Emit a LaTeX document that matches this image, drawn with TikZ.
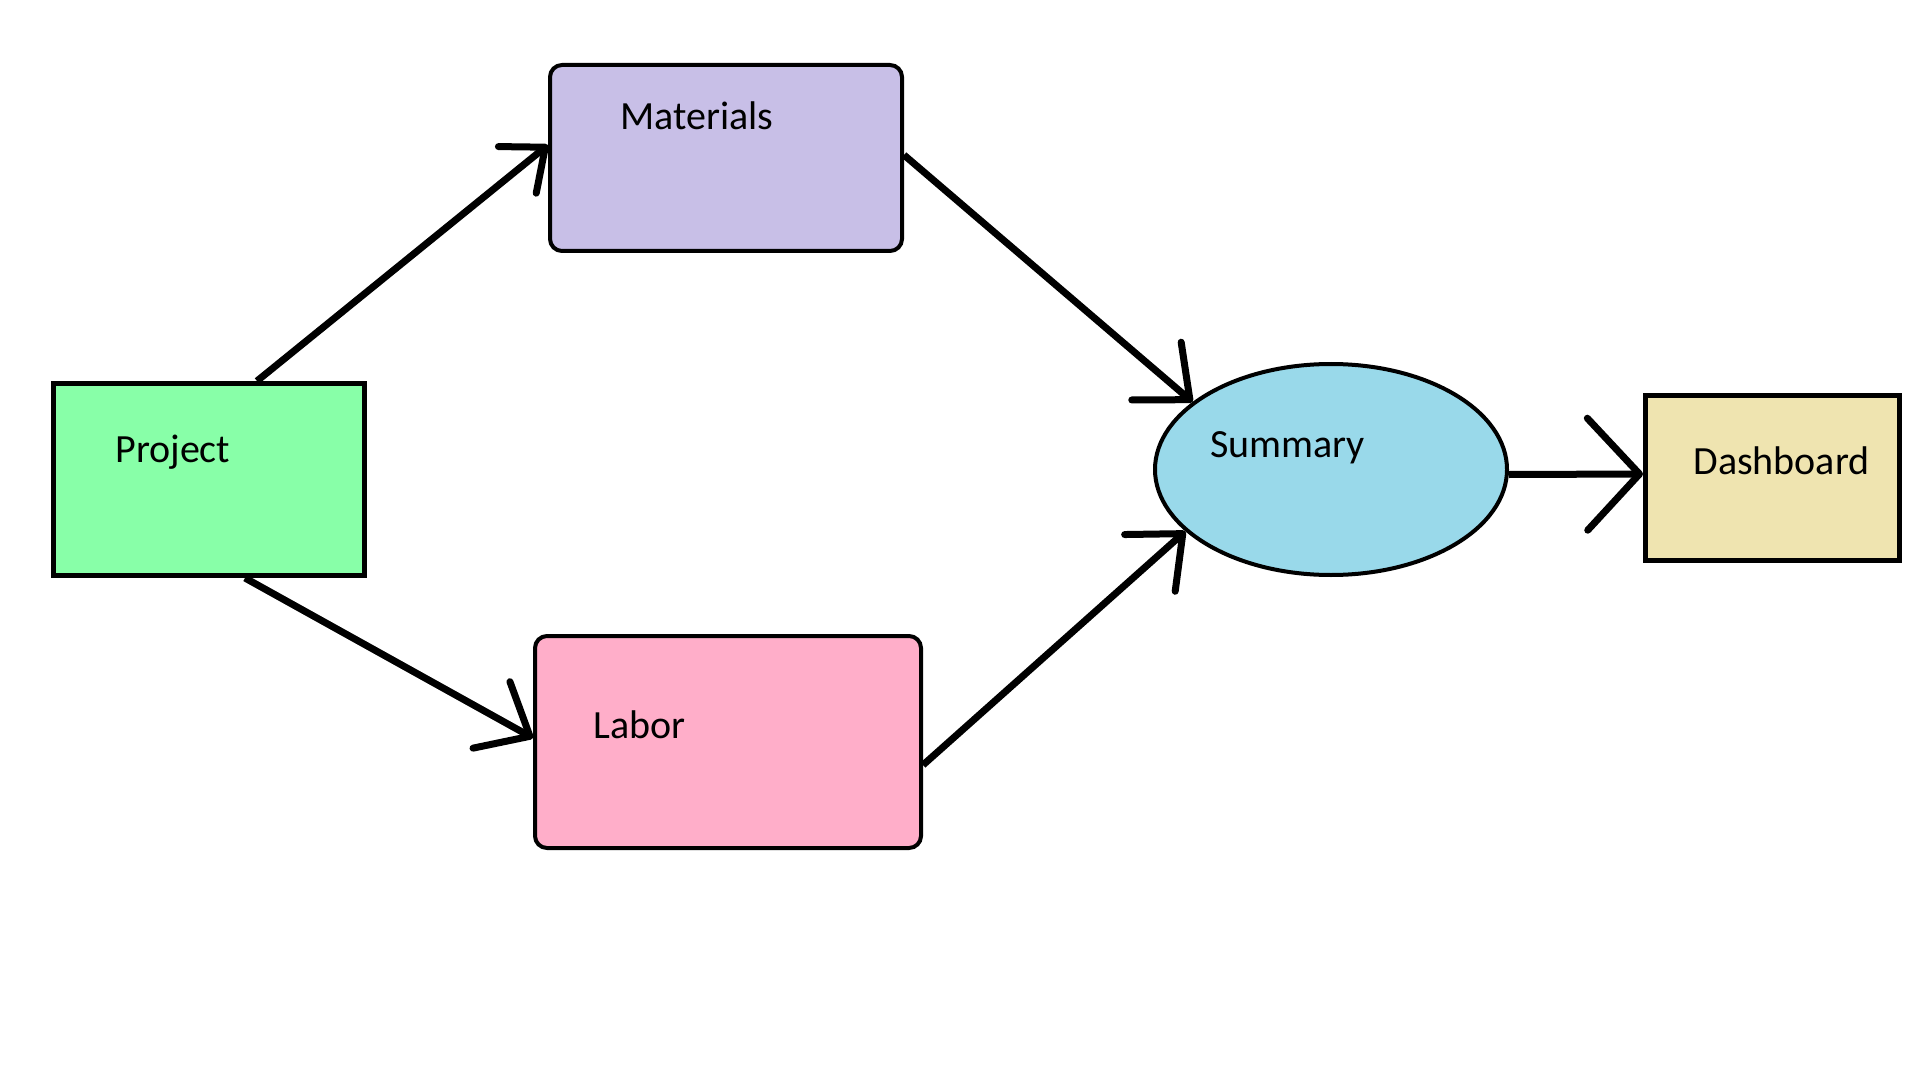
\documentclass[tikz,border=0pt]{standalone}
\usepackage{fontspec}
\setmainfont{Carlito}
\usepackage{tikz}
\usepackage{xcolor}
\usetikzlibrary{arrows.meta,shapes.geometric}

\definecolor{projgreen}{RGB}{136,255,168}
\definecolor{matlilac}{RGB}{200,191,231}
\definecolor{labpink}{RGB}{255,174,201}
\definecolor{sumblue}{RGB}{153,217,234}
\definecolor{dashtan}{RGB}{239,228,176}

\tikzset{
  box/.style={draw, line width=2.5pt},
  rbox/.style={draw, line width=2pt, rounded corners=6pt},
  lbl/.style={anchor=base west, inner sep=0pt, font=\fontsize{20pt}{24pt}\selectfont},
  flow/.style={line width=3.5pt, -{Straight Barb[length=22pt,width=38pt,round]}}
}

\begin{document}
\begin{tikzpicture}[x=0.5pt,y=-0.5pt]
\useasboundingbox (0,0) rectangle (1920,1080);

\node[box, fill=projgreen, minimum width=155.5pt, minimum height=96pt] (proj) at (209,479.5) {};
\node[rbox, fill=matlilac, minimum width=176pt, minimum height=93pt] (mat) at (726,158) {};
\node[rbox, fill=labpink, minimum width=193pt, minimum height=106pt] (lab) at (728,742) {};
\node[ellipse, draw, line width=2pt, fill=sumblue, minimum width=176pt, minimum height=105.5pt] (sum) at (1331,469.5) {};
\node[box, fill=dashtan, minimum width=127pt, minimum height=82.5pt] (dash) at (1772.5,478) {};

\node[lbl] (projtxt) at (115,462) {Project};
\node[lbl] (mattxt) at (620,130) {Materials};
\node[lbl] (labtxt) at (593,738) {Labor};
\node[lbl] (sumtxt) at (1210,457) {Summary};
\node[lbl] (dashtxt) at (1693,474) {Dashboard};

%arrows
\draw[flow, -{Straight Barb[length=18pt,width=30pt,round]}] ([xshift=24pt]proj.north) -- ([yshift=6.5pt]mat.west);
\draw[flow] ([xshift=18pt]proj.south) -- ([yshift=2pt]lab.west);
\draw[flow] ([yshift=1.5pt]mat.east) -- (sum.154);
\draw[flow] ([yshift=-11.5pt]lab.east) -- (sum.203);
\draw[flow, -{Straight Barb[length=26pt,width=56pt,round]}] ([yshift=-2.5pt]sum.east) -- ([yshift=2pt]dash.west);

\end{tikzpicture}
\end{document}
